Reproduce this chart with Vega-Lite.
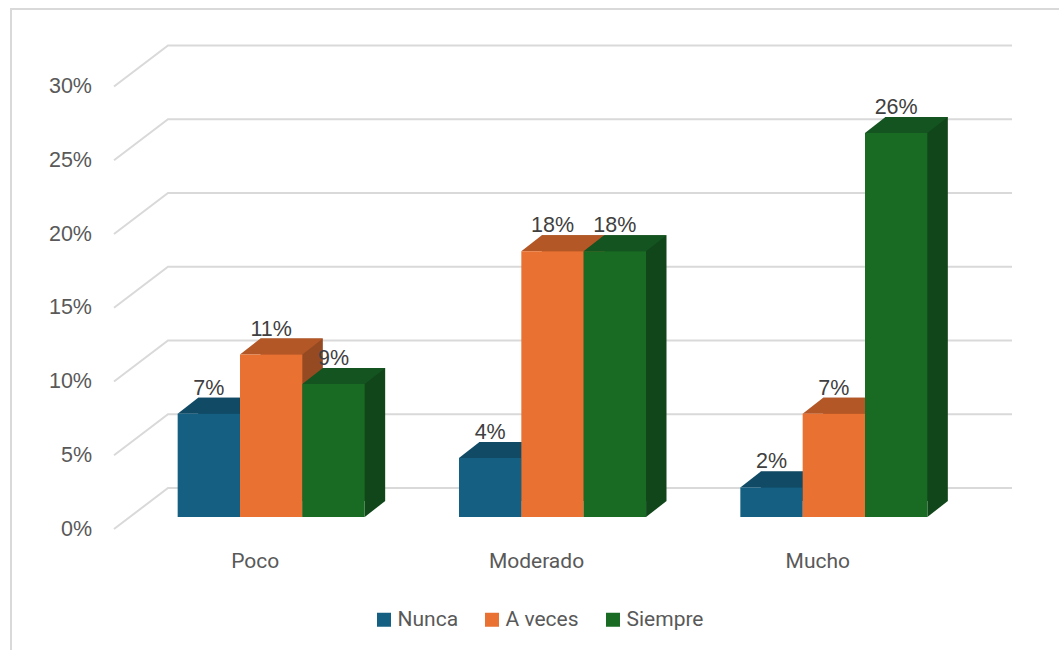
{
"$schema":"https://vega.github.io/schema/vega-lite/v6.json",
"width":1048,"height":641,
"autosize":{"type":"none"},
"padding":{"left":11,"top":9,"right":0,"bottom":0},
"background":"white",
"config":{"view":{"stroke":null}},
"datasets":{
"bars":[
{"nivel":"Poco","serie":"Nunca","valor":0.07},
{"nivel":"Poco","serie":"A veces","valor":0.11},
{"nivel":"Poco","serie":"Siempre","valor":0.09},
{"nivel":"Moderado","serie":"Nunca","valor":0.04},
{"nivel":"Moderado","serie":"A veces","valor":0.18},
{"nivel":"Moderado","serie":"Siempre","valor":0.18},
{"nivel":"Mucho","serie":"Nunca","valor":0.02},
{"nivel":"Mucho","serie":"A veces","valor":0.07},
{"nivel":"Mucho","serie":"Siempre","valor":0.26}
],
"grid":[{"t":0},{"t":0.05},{"t":0.1},{"t":0.15},{"t":0.2},{"t":0.25},{"t":0.3}]
},
"layer":[
{"data":{"values":[{"a":1}]},
 "mark":{"type":"point","shape":"M-524,320.5L-524,-320.5L524,-320.5","size":4,"stroke":"#D9D9D9","strokeWidth":2,"fill":null,"opacity":1},
 "encoding":{}},
{"data":{"name":"grid"},
 "mark":{"type":"point","shape":"M-421,0L-367,-41L477,-41","size":4,"stroke":"#D9D9D9","strokeWidth":2,"fill":null,"opacity":1},
 "encoding":{"y":{"field":"t","type":"quantitative","scale":{"domain":[0,0.3],"range":[520,77.5]},
   "axis":{"values":[0,0.05,0.1,0.15,0.2,0.25,0.3],"format":".0%","title":null,"grid":false,"domain":false,"ticks":false,"offset":-80.5,"labelPadding":0,"labelFont":"Liberation Sans","labelFontSize":21.5,"labelColor":"#595959"}}}},
{"data":{"name":"bars"},
 "mark":{"type":"bar"},
 "encoding":{
  "x":{"field":"nivel","type":"nominal","sort":["Poco","Moderado","Mucho"],"axis":null,"scale":{"range":[140,984],"paddingInner":0.3353,"paddingOuter":0.16765}},
  "xOffset":{"field":"serie","type":"nominal","sort":["Nunca","A veces","Siempre"]},
  "y":{"field":"valor","type":"quantitative","stack":null,"axis":null,"scale":{"domain":[0,0.3],"range":[492,49]}},
  "color":{"field":"serie","type":"nominal","legend":null,"scale":{"domain":["Nunca","A veces","Siempre"],"range":["#0E4058","#954A21","#10461A"]}}}},
{"data":{"name":"bars"},
 "mark":{"type":"point","shape":"M31.2,0L51.7,-16L31.2,-16Z","size":4,"filled":true,"opacity":1},
 "encoding":{
  "x":{"field":"nivel","type":"nominal","sort":["Poco","Moderado","Mucho"],"axis":null,"scale":{"range":[119.5,963.5],"paddingInner":0.3353,"paddingOuter":0.16765}},
  "xOffset":{"field":"serie","type":"nominal","sort":["Nunca","A veces","Siempre"]},
  "y":{"datum":0,"type":"quantitative","axis":null,"scale":{"domain":[0,0.3],"range":[508,65]}},
  "color":{"field":"serie","type":"nominal","legend":null,"scale":{"domain":["Nunca","A veces","Siempre"],"range":["#0E4058","#954A21","#10461A"]}}}},
{"data":{"name":"bars"},
 "mark":{"type":"point","shape":"M-31.2,0L31.2,0L51.7,-16L-10.7,-16Z","size":4,"filled":true,"opacity":1},
 "encoding":{
  "x":{"field":"nivel","type":"nominal","sort":["Poco","Moderado","Mucho"],"axis":null,"scale":{"range":[119.5,963.5],"paddingInner":0.3353,"paddingOuter":0.16765}},
  "xOffset":{"field":"serie","type":"nominal","sort":["Nunca","A veces","Siempre"]},
  "y":{"field":"valor","type":"quantitative","axis":null,"scale":{"domain":[0,0.3],"range":[508,65]}},
  "color":{"field":"serie","type":"nominal","legend":null,"scale":{"domain":["Nunca","A veces","Siempre"],"range":["#104A65","#B35726","#145421"]}}}},
{"data":{"name":"bars"},
 "mark":{"type":"bar"},
 "encoding":{
  "x":{"field":"nivel","type":"nominal","sort":["Poco","Moderado","Mucho"],"scale":{"range":[119.5,963.5],"paddingInner":0.3353,"paddingOuter":0.16765},
   "axis":{"title":null,"domain":false,"ticks":false,"labelAngle":0,"labelPadding":0,"labelOffset":-16,"offset":-100,"labelFont":"Roboto","labelFontSize":21,"labelColor":"#595959"}},
  "xOffset":{"field":"serie","type":"nominal","sort":["Nunca","A veces","Siempre"]},
  "y":{"field":"valor","type":"quantitative","stack":null,"axis":null,"scale":{"domain":[0,0.3],"range":[508,65]}},
  "color":{"field":"serie","type":"nominal","scale":{"domain":["Nunca","A veces","Siempre"],"range":["#156082","#E97132","#196B24"]},
   "legend":{"orient":"none","legendX":362.5,"legendY":600,"direction":"horizontal","columns":3,"title":null,"symbolType":"square","symbolSize":196,"symbolStrokeWidth":0,"labelFont":"Roboto","labelFontSize":21,"labelColor":"#595959","labelOffset":3,"columnPadding":23,"padding":0}}}},
{"data":{"name":"bars"},
 "mark":{"type":"text","yOffset":-25,"font":"Liberation Sans","fontSize":21.5,"color":"#404040","baseline":"middle"},
 "encoding":{
  "x":{"field":"nivel","type":"nominal","sort":["Poco","Moderado","Mucho"],"axis":null,"scale":{"range":[119.5,963.5],"paddingInner":0.3353,"paddingOuter":0.16765}},
  "xOffset":{"field":"serie","type":"nominal","sort":["Nunca","A veces","Siempre"]},
  "y":{"field":"valor","type":"quantitative","axis":null,"scale":{"domain":[0,0.3],"range":[508,65]}},
  "text":{"field":"valor","type":"quantitative","format":".0%"}}}
],
"resolve":{"scale":{"color":"independent","x":"independent","y":"independent"},"axis":{"x":"independent","y":"independent"}}
}
